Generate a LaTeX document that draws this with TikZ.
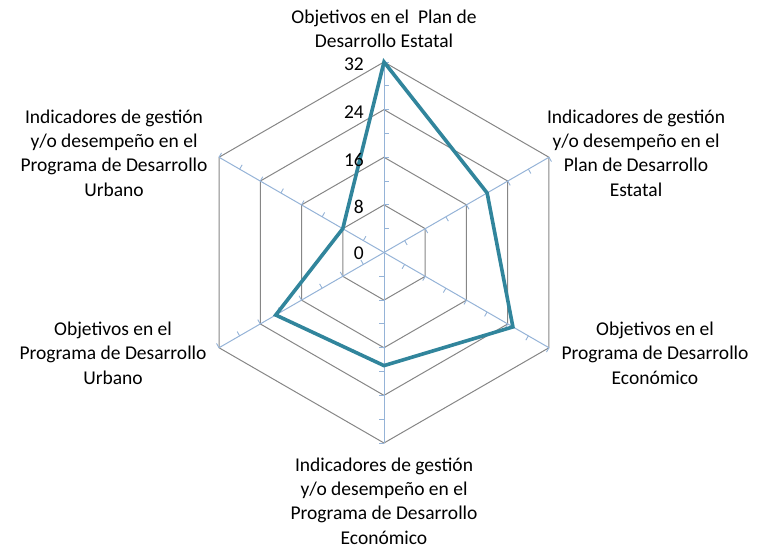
\documentclass[tikz,border=0pt]{standalone}
\usepackage{fontspec}
\setmainfont{Carlito}
\usetikzlibrary{calc}
\definecolor{gridgray}{HTML}{868686}
\definecolor{axisblue}{HTML}{95B3D7}
\definecolor{datateal}{HTML}{31859C}
\begin{document}
\begin{tikzpicture}[x=1pt,y=1pt,
  gridline/.style={draw=gridgray,line width=1pt},
  axisline/.style={draw=axisblue,line width=1pt},
  tickline/.style={draw=axisblue,line width=0.9pt},
  dataline/.style={draw=datateal,line width=3.6pt,line join=miter},
  lbl/.style={align=center,inner sep=0pt,font=\fontsize{19.5}{24.4}\selectfont},
  vlbl/.style={anchor=east,inner sep=0pt,font=\fontsize{19.5}{24.4}\selectfont}]
\useasboundingbox (0,0) rectangle (760,-548);
\coordinate (C) at (384,-252.5);
\def\unitr{5.953}
% grid hexagons
\foreach \v in {8,16,24,32}{
  \draw[gridline] ($(C)+(90:\v*\unitr)$) \foreach \a in {30,-30,-90,-150,150}{ -- ($(C)+(\a:\v*\unitr)$)} -- cycle;
}
% axes with ticks
\foreach \a in {90,30,-30,-90,-150,150}{
  \coordinate (E\a) at ($(C)+(\a:32*\unitr)$);
  \draw[axisline] (C) -- (E\a);
  \foreach \t in {4,8,...,32}{
    \draw[tickline] ($(C)+(\a:\t*\unitr)$) -- ++(\a-90:5);
  }
}
% data
\coordinate (D1) at ($(C)+(90:32*\unitr)$);
\coordinate (D2) at ($(C)+(30:20*\unitr)$);
\coordinate (D3) at ($(C)+(-30:25*\unitr)$);
\coordinate (D4) at ($(C)+(-90:19*\unitr)$);
\coordinate (D5) at ($(C)+(-150:21*\unitr)$);
\coordinate (D6) at ($(C)+(150:8*\unitr)$);
\draw[dataline] (D1) -- (D2) -- (D3) -- (D4) -- (D5) -- (D6) -- cycle;
% value labels
\node[vlbl] (v0) at (364,-253) {0};
\node[vlbl] (v8) at (364,-207) {8};
\node[vlbl] (v16) at (364,-160) {16};
\node[vlbl] (v24) at (364,-112.5) {24};
\node[vlbl] (v32) at (364,-64) {32};
% category labels
\node[lbl] (l1) at (384,-29) {Objetivos en el\ \ Plan de\\Desarrollo Estatal};
\node[lbl] (l2) at (636,-153) {Indicadores de gestión\\y/o desempeño en el\\Plan de Desarrollo\\Estatal};
\node[lbl] (l3) at (655,-353) {Objetivos en el\\Programa de Desarrollo\\Económico};
\node[lbl] (l4) at (384,-501) {Indicadores de gestión\\y/o desempeño en el\\Programa de Desarrollo\\Económico};
\node[lbl] (l5) at (113,-353) {Objetivos en el\\Programa de Desarrollo\\Urbano};
\node[lbl] (l6) at (114,-153) {Indicadores de gestión\\y/o desempeño en el\\Programa de Desarrollo\\Urbano};
\end{tikzpicture}
\end{document}
